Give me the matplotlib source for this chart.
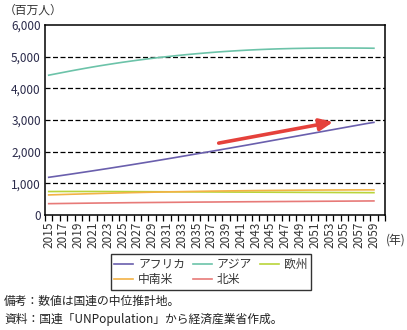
import matplotlib
matplotlib.use("Agg")
import matplotlib.pyplot as plt
import numpy as np

plt.rcParams['font.family'] = ['Noto Sans CJK JP', 'DejaVu Sans']

years = list(range(2015, 2061))  # categories 2015..2060
series_names = ["アフリカ", "アジア", "欧州", "中南米", "北米"]
africa = [1190, 1223, 1257, 1291, 1326, 1361, 1396, 1432, 1468, 1505,
          1542, 1579, 1617, 1655, 1693, 1732, 1771, 1810, 1850, 1890,
          1930, 1970, 2010, 2051, 2092, 2133, 2174, 2215, 2257, 2299,
          2341, 2383, 2425, 2467, 2509, 2551, 2593, 2635, 2677, 2719,
          2761, 2803, 2845, 2887, 2925]
asia = [4415, 4460, 4505, 4550, 4593, 4635, 4676, 4715, 4752, 4788,
        4823, 4856, 4888, 4918, 4947, 4975, 5001, 5026, 5050, 5072,
        5093, 5113, 5132, 5150, 5166, 5181, 5195, 5208, 5219, 5229,
        5238, 5246, 5252, 5258, 5262, 5266, 5269, 5271, 5272, 5273,
        5273, 5272, 5271, 5269, 5266]
europe = [741, 742, 743, 743, 743, 743, 743, 742, 741, 740,
          739, 738, 737, 736, 735, 734, 733, 732, 731, 730,
          729, 728, 727, 726, 725, 724, 723, 722, 721, 720,
          719, 718, 717, 716, 715, 714, 713, 712, 711, 710,
          709, 708, 707, 706, 705]
latam = [634, 641, 648, 655, 661, 668, 674, 681, 687, 693,
         699, 705, 710, 715, 720, 725, 730, 734, 738, 742,
         746, 750, 754, 757, 760, 763, 766, 769, 772, 774,
         776, 778, 780, 782, 784, 786, 787, 788, 789, 790,
         791, 792, 793, 794, 794]
namerica = [358, 361, 364, 367, 370, 373, 376, 379, 381, 384,
            386, 389, 391, 393, 395, 397, 399, 401, 403, 405,
            407, 409, 410, 412, 414, 416, 417, 419, 420, 422,
            423, 425, 426, 428, 429, 431, 432, 434, 435, 437,
            438, 440, 441, 443, 444]
colors = ["#6a5fad", "#6cc3a9", "#b9d43a", "#f2b245", "#e77a78"]
yticks = [0, 1000, 2000, 3000, 4000, 5000, 6000]

fig = plt.figure(figsize=(4.07, 3.30), dpi=100)
ax = fig.add_axes([45/407, 1-215/330, 340/407, 190/330])

data = [africa, asia, europe, latam, namerica]
lines = []
for name, vals, c in zip(series_names, data, colors):
    ln, = ax.plot(np.arange(len(vals)), vals, color=c, lw=1.2, label=name)
    lines.append(ln)

# grid lines
for yv in yticks[1:-1]:
    ax.axhline(yv, color='black', lw=0.9, ls=(0, (4, 2)), zorder=0)

# arrow annotation
ax.annotate("", xy=(38.5, 2940), xytext=(23.0, 2270),
            arrowprops=dict(arrowstyle="-|>,head_length=0.8,head_width=0.35",
                            color="#e5413b", lw=2.6, shrinkA=0, shrinkB=0))

n = len(years)
ax.set_xlim(-0.5, n - 0.5)
ax.set_ylim(0, 6000)
ax.set_yticks(yticks)
ax.set_yticklabels([f"{v:,}" for v in yticks], fontsize=8.5, color="#2b2b4b")
ax.tick_params(axis='y', length=0, pad=3)

ax.set_xticks(np.arange(0, n, 2))
ax.set_xticklabels([str(years[i]) for i in range(0, n, 2)], rotation=90,
                   fontsize=8.5, color="#333333")
ax.set_xticks(np.arange(-0.5, n, 1), minor=True)
ax.tick_params(axis='x', which='major', length=0, pad=5)
ax.tick_params(axis='x', which='minor', length=4, width=0.9, color='black')

for s in ax.spines.values():
    s.set_color('black')
    s.set_linewidth(1.1)

fig.text(4/407, 1-10/330, "（百万人）", fontsize=8.5, va='center', ha='left', color="#333333")
fig.text(386/407, 1-240/330, "(年)", fontsize=8.5, va='center', ha='left', color="#333333")

order = [0, 3, 1, 4, 2]  # row-wise fill for 3 columns
leg = fig.legend([lines[i] for i in order], [series_names[i] for i in order],
                 loc='center', bbox_to_anchor=(211/407, 1-272/330), ncol=3,
                 fontsize=8.5, frameon=True, fancybox=False, edgecolor='black',
                 handlelength=1.6, handletextpad=0.4, columnspacing=0.7,
                 borderpad=0.3, labelspacing=0.2)
leg.get_frame().set_linewidth(1.0)
for t in leg.get_texts():
    t.set_color("#333333")

fig.text(4/407, 1-301/330, "備考：数値は国連の中位推計地。", fontsize=8.5, va='center', ha='left', color="#222222")
fig.text(4/407, 1-319/330, "資料：国連「UNPopulation」から経済産業省作成。", fontsize=8.5, va='center', ha='left', color="#222222")

fig.savefig("out.png", dpi=100)
